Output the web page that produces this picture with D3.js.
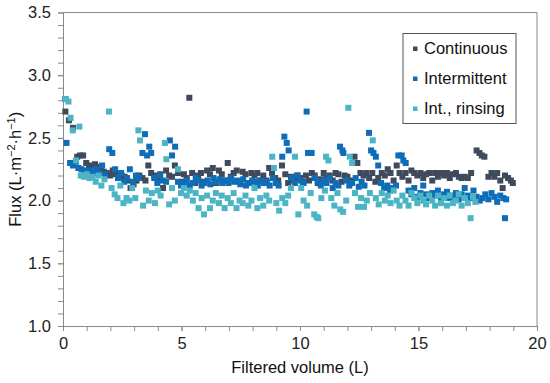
<!DOCTYPE html>
<meta charset="utf-8">
<title>Flux vs filtered volume</title>
<style>
body {
  margin: 0;
  background: #fff;
}
svg {
  font-family: "Liberation Sans", Arial, sans-serif;
}
.tick text {
  font-size: 16.5px;
  fill: #222;
}
.axis path, .axis line {
  stroke: #8a8a8a;
}
.legend text {
  font-size: 16.5px;
  fill: #111;
}
</style>
<body>
<svg width="550" height="383"></svg>

<script src="https://d3js.org/d3.v7.min.js"></script>
<script>
// Continuous
var contX = [0.10,0.25,0.42,0.60,0.72,0.85,0.98,1.10,1.22,1.35,1.48,1.60,1.72,1.85,1.98,2.10,2.22,2.35,2.48,2.60,
  2.72,2.85,2.98,3.10,3.22,3.35,3.48,3.60,3.72,3.85,3.98,4.10,4.22,4.35,4.48,4.60,4.72,4.85,4.98,5.10,
  5.22,5.33,5.45,5.58,5.70,5.82,5.95,6.08,6.20,6.32,6.45,6.58,6.70,6.82,6.95,7.08,7.20,7.33,7.45,7.58,
  7.70,7.82,7.95,8.08,8.20,8.32,8.45,8.58,8.70,8.82,8.95,9.08,9.24,9.38,9.50,9.62,9.75,9.88,10.00,10.12,
  10.25,10.38,10.50,10.62,10.75,10.88,11.00,11.12,11.25,11.38,11.50,11.62,11.75,11.88,12.00,12.12,12.30,12.42,12.55,12.68,
  12.80,12.92,13.05,13.18,13.30,13.45,13.58,13.70,13.82,13.95,14.08,14.20,14.32,14.45,14.58,14.70,14.82,14.95,15.08,15.20,
  15.32,15.45,15.58,15.70,15.82,15.95,16.08,16.20,16.32,16.45,16.58,16.70,16.82,16.95,17.08,17.22,17.45,17.57,17.67,17.78,
  17.95,18.08,18.20,18.32,18.45,18.55,18.65,18.78,18.90,18.98];
var contY = [2.71,2.64,2.58,2.35,2.36,2.36,2.30,2.27,2.28,2.29,2.27,2.25,2.23,2.22,2.20,2.24,2.21,2.18,2.20,2.19,
  2.16,2.10,2.13,2.16,2.20,2.18,2.16,2.28,2.22,2.20,2.18,2.21,2.10,2.24,2.20,2.19,2.28,2.22,2.15,2.21,
  2.18,2.82,2.22,2.14,2.20,2.22,2.15,2.24,2.21,2.26,2.14,2.24,2.21,2.16,2.30,2.19,2.22,2.24,2.15,2.23,
  2.21,2.14,2.22,2.20,2.22,2.16,2.20,2.16,2.26,2.22,2.18,2.16,2.28,2.21,2.14,2.19,2.16,2.20,2.18,2.15,
  2.20,2.16,2.22,2.20,2.14,2.17,2.22,2.18,2.20,2.16,2.22,2.21,2.15,2.20,2.19,2.16,2.35,2.30,2.22,2.20,
  2.22,2.18,2.22,2.15,2.18,2.22,2.20,2.25,2.22,2.16,2.28,2.22,2.19,2.22,2.16,2.24,2.22,2.20,2.22,2.18,
  2.21,2.22,2.16,2.22,2.19,2.22,2.20,2.22,2.18,2.21,2.22,2.19,2.18,2.19,2.18,2.22,2.40,2.38,2.36,2.35,
  2.19,2.22,2.19,2.22,2.16,2.10,2.20,2.18,2.16,2.14];

// Intermittent
var intX = [0.10,0.15,0.30,0.42,0.55,0.65,0.78,0.90,1.02,1.15,1.28,1.40,1.52,1.65,1.78,1.95,2.08,2.20,2.32,2.45,
  2.58,2.70,2.82,2.95,3.08,3.20,3.35,3.46,3.55,3.64,3.72,3.85,3.98,4.10,4.22,4.35,4.51,4.60,4.73,4.85,
  4.98,5.10,5.22,5.35,5.48,5.60,5.72,5.85,5.98,6.10,6.22,6.35,6.48,6.60,6.72,6.85,6.98,7.10,7.22,7.35,
  7.48,7.60,7.72,7.85,7.98,8.10,8.22,8.35,8.48,8.60,8.72,8.85,8.98,9.10,9.25,9.34,9.44,9.52,9.65,9.78,
  9.90,10.02,10.15,10.28,10.34,10.49,10.62,10.75,10.88,11.00,11.12,11.25,11.38,11.50,11.62,11.69,11.79,11.83,11.95,12.08,
  12.20,12.35,12.48,12.60,12.72,12.91,13.00,13.10,13.20,13.30,13.42,13.55,13.68,13.80,13.92,14.05,14.15,14.29,14.36,14.46,
  14.58,14.70,14.82,14.95,15.08,15.20,15.32,15.45,15.58,15.70,15.82,15.95,16.08,16.20,16.32,16.45,16.58,16.70,16.82,16.95,
  17.08,17.20,17.32,17.45,17.58,17.70,17.82,17.95,18.08,18.20,18.32,18.45,18.58,18.65,18.70];
var intY = [2.81,2.46,2.30,2.28,2.31,2.26,2.25,2.24,2.22,2.24,2.22,2.25,2.22,2.28,2.21,2.41,2.38,2.25,2.18,2.22,
  2.15,2.18,2.25,2.15,2.20,2.18,2.38,2.53,2.36,2.43,2.38,2.18,2.14,2.20,2.16,2.15,2.48,2.36,2.43,2.15,
  2.12,2.14,2.16,2.12,2.14,2.18,2.16,2.12,2.14,2.16,2.13,2.18,2.15,2.17,2.14,2.16,2.14,2.18,2.15,2.16,
  2.13,2.17,2.12,2.14,2.16,2.15,2.12,2.16,2.14,2.15,2.12,2.18,2.14,2.12,2.35,2.51,2.46,2.40,2.18,2.14,
  2.20,2.16,2.14,2.71,2.38,2.38,2.18,2.15,2.12,2.16,2.14,2.18,2.10,2.14,2.12,2.43,2.40,2.38,2.16,2.12,
  2.14,2.18,2.11,2.15,2.12,2.54,2.40,2.38,2.35,2.28,2.14,2.10,2.12,2.08,2.10,2.12,2.36,2.36,2.32,2.30,
  2.08,2.05,2.10,2.03,2.06,2.12,2.05,2.02,2.06,2.04,2.08,2.02,2.05,2.07,2.02,2.04,2.06,2.01,2.05,2.10,
  2.04,2.02,2.08,2.03,2.00,2.02,2.05,2.01,2.06,2.03,1.99,2.04,2.02,1.86,2.01];

// Int., rinsing
var rinX = [0.12,0.23,0.32,0.41,0.55,0.69,0.75,0.88,1.00,1.12,1.25,1.38,1.50,1.62,1.75,1.94,2.05,2.18,2.30,2.42,
  2.55,2.68,2.80,2.92,3.05,3.18,3.25,3.38,3.50,3.62,3.75,3.88,4.00,4.12,4.30,4.36,4.48,4.60,4.72,4.85,
  4.98,5.10,5.22,5.35,5.48,5.60,5.72,5.85,5.95,6.08,6.20,6.32,6.45,6.58,6.70,6.82,6.95,7.08,7.20,7.32,
  7.45,7.58,7.70,7.82,7.95,8.08,8.20,8.32,8.45,8.58,8.70,8.83,8.90,9.00,9.12,9.25,9.38,9.50,9.62,9.79,
  9.93,10.05,10.15,10.30,10.45,10.60,10.70,10.77,10.90,11.05,11.10,11.20,11.32,11.45,11.58,11.70,11.82,11.95,12.04,12.10,
  12.20,12.32,12.45,12.58,12.70,12.82,12.95,13.07,13.20,13.32,13.45,13.58,13.70,13.82,13.95,14.08,14.20,14.32,14.45,14.58,
  14.70,14.82,14.95,15.08,15.20,15.32,15.45,15.58,15.70,15.82,15.95,16.08,16.20,16.32,16.45,16.58,16.70,16.82,16.95,17.08,
  17.20,17.30,17.40];
var rinY = [2.81,2.79,2.66,2.56,2.32,2.59,2.20,2.19,2.21,2.18,2.19,2.15,2.20,2.12,2.17,2.71,2.10,2.05,2.02,2.12,
  1.98,2.02,2.00,2.10,2.02,2.56,2.48,1.96,2.08,2.00,2.06,1.98,2.08,2.04,2.46,2.33,1.97,2.10,2.00,2.25,
  2.06,2.10,2.04,2.08,2.00,2.06,1.94,2.02,1.89,2.04,1.94,2.00,2.06,1.98,2.04,1.94,2.02,1.98,2.06,1.94,
  2.00,1.98,2.04,1.96,2.00,2.10,1.94,2.02,1.96,2.04,2.00,2.35,2.26,1.98,1.92,2.02,1.98,2.04,2.10,2.35,
  1.89,2.10,2.00,1.96,2.06,1.89,1.87,1.86,2.02,2.08,2.35,2.32,2.02,1.96,2.06,1.93,1.91,2.00,2.74,2.35,
  2.30,2.06,1.95,2.02,1.95,2.00,2.06,2.48,2.02,1.97,2.06,2.00,2.04,1.98,2.08,2.00,1.96,2.04,2.00,1.96,
  2.06,2.02,1.98,2.04,2.00,1.97,2.04,2.00,1.96,2.04,1.98,2.02,1.96,2.04,1.98,2.00,2.05,1.96,2.02,1.98,
  1.86,2.03,1.99];

var seriesNames = ["Continuous", "Intermittent", "Int., rinsing"];
var seriesColors = ["#3f4a5c", "#0f6db8", "#4bb5c5"];

var xTicks = [0, 5, 10, 15, 20];
var yTicks = [1.0, 1.5, 2.0, 2.5, 3.0, 3.5];

var series = [
  {name: seriesNames[0], color: seriesColors[0], pts: d3.zip(contX, contY)},
  {name: seriesNames[1], color: seriesColors[1], pts: d3.zip(intX, intY)},
  {name: seriesNames[2], color: seriesColors[2], pts: d3.zip(rinX, rinY)}
];

var svg = d3.select("svg"),
    margin = {top: 12.5, right: 13, bottom: 57, left: 63},
    width = +svg.attr("width") - margin.left - margin.right,
    height = +svg.attr("height") - margin.top - margin.bottom;

var x = d3.scaleLinear().domain([0, 20]).range([0, width]);
var y = d3.scaleLinear().domain([1.0, 3.5]).range([height, 0]);

var g = svg.append("g")
    .attr("transform", "translate(" + margin.left + "," + margin.top + ")");

// frame (top and right)
g.append("path")
    .attr("d", "M0,0H" + width + "V" + height)
    .attr("fill", "none")
    .attr("stroke", "#8a8a8a");

// minor ticks
g.append("g")
    .attr("class", "axis")
    .attr("transform", "translate(0," + height + ")")
    .call(d3.axisBottom(x).ticks(20).tickSize(5).tickFormat(""))
    .select(".domain").remove();
g.append("g")
    .attr("class", "axis")
    .call(d3.axisLeft(y).ticks(25).tickSize(5).tickFormat(""))
    .select(".domain").remove();

// major axes with labels
var xAxis = g.append("g")
    .attr("class", "axis")
    .attr("transform", "translate(0," + height + ")")
    .call(d3.axisBottom(x).tickValues(xTicks).tickSize(5).tickSizeOuter(0).tickPadding(6).tickFormat(d3.format("d")));
var yAxis = g.append("g")
    .attr("class", "axis")
    .call(d3.axisLeft(y).tickValues(yTicks).tickSize(5).tickSizeOuter(0).tickPadding(7).tickFormat(d3.format(".1f")));

// points
var sz = 6;
series.forEach(function(s) {
  g.append("g")
    .selectAll("rect")
    .data(s.pts)
    .enter().append("rect")
      .attr("x", function(d) { return x(d[0]) - sz / 2; })
      .attr("y", function(d) { return y(d[1]) - sz / 2; })
      .attr("width", sz)
      .attr("height", sz)
      .attr("fill", s.color);
});

// axis titles
svg.append("text")
    .attr("x", margin.left + width / 2)
    .attr("y", 373)
    .attr("text-anchor", "middle")
    .style("font-size", "16.5px")
    .style("fill", "#111")
    .text("Filtered volume (L)");

var yt = svg.append("text")
    .attr("transform", "translate(21," + (margin.top + height / 2) + ") rotate(-90)")
    .attr("text-anchor", "middle")
    .style("font-size", "16.5px")
    .style("fill", "#111");
yt.append("tspan").text("Flux (L·m");
yt.append("tspan").attr("dy", -6).style("font-size", "11px").text("−2");
yt.append("tspan").attr("dy", 6).text("·h");
yt.append("tspan").attr("dy", -6).style("font-size", "11px").text("−1");
yt.append("tspan").attr("dy", 6).text(")");

// legend
var lg = svg.append("g")
    .attr("class", "legend")
    .attr("transform", "translate(403,33.5)");
lg.append("rect")
    .attr("width", 113)
    .attr("height", 90)
    .attr("fill", "#fff")
    .attr("stroke", "#555");
series.forEach(function(s, i) {
  var row = lg.append("g").attr("transform", "translate(0," + (15 + i * 30) + ")");
  row.append("rect")
      .attr("x", 10)
      .attr("y", -2)
      .attr("width", 4.5)
      .attr("height", 4.5)
      .attr("fill", s.color);
  row.append("text")
      .attr("x", 21)
      .attr("dy", "0.35em")
      .text(s.name);
});
</script>
</body>
